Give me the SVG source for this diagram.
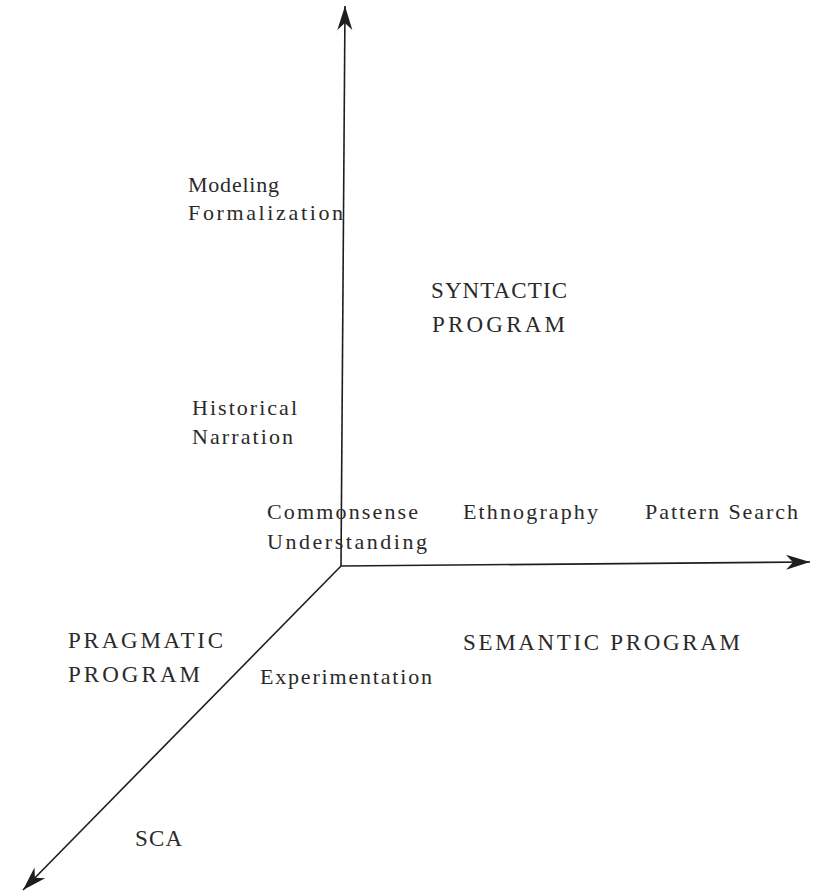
<svg xmlns="http://www.w3.org/2000/svg" width="816" height="892" viewBox="0 0 816 892">
<style>
text{font-family:"Liberation Serif","Times New Roman",serif;fill:#2a2a2a}
.lc{font-size:22px}
.uc{font-size:23px}
.axis{stroke:#1e1e1e;stroke-width:1.6;fill:none}
</style>
<defs>
<marker id="arr" markerUnits="userSpaceOnUse" viewBox="-26 -9 28 18" markerWidth="28" markerHeight="18" refX="0" refY="0" orient="auto">
<path d="M0,0 L-24,-7.5 L-17,0 L-24,7.5 Z" fill="#1e1e1e"/>
</marker>
</defs>
<rect width="816" height="892" fill="#ffffff"/>
<g id="connectors">
<line class="axis" x1="341" y1="566" x2="345" y2="6" marker-end="url(#arr)"/>
<line class="axis" x1="341" y1="566" x2="810" y2="562" marker-end="url(#arr)"/>
<line class="axis" x1="341" y1="566" x2="23" y2="890" marker-end="url(#arr)"/>
</g>
<g id="modeling"><text class="lc" x="188" y="192" textLength="91" lengthAdjust="spacing">Modeling</text><text class="lc" x="188" y="220" textLength="155" lengthAdjust="spacing">Formalization</text></g>
<g id="syntactic"><text class="uc" x="431" y="298" textLength="136" lengthAdjust="spacing">SYNTACTIC</text><text class="uc" x="432" y="332" textLength="133" lengthAdjust="spacing">PROGRAM</text></g>
<g id="historical"><text class="lc" x="192" y="415" textLength="105" lengthAdjust="spacing">Historical</text><text class="lc" x="192" y="444" textLength="101" lengthAdjust="spacing">Narration</text></g>
<g id="commonsense"><text class="lc" x="267" y="519" textLength="151" lengthAdjust="spacing">Commonsense</text><text class="lc" x="267" y="549" textLength="160" lengthAdjust="spacing">Understanding</text></g>
<g id="ethnography"><text class="lc" x="463" y="519" textLength="135" lengthAdjust="spacing">Ethnography</text></g>
<g id="pattern-search"><text class="lc" x="645" y="519" textLength="153" lengthAdjust="spacing">Pattern Search</text></g>
<g id="pragmatic"><text class="uc" x="68" y="648" textLength="155" lengthAdjust="spacing">PRAGMATIC</text><text class="uc" x="68" y="682" textLength="132" lengthAdjust="spacing">PROGRAM</text></g>
<g id="experimentation"><text class="lc" x="260" y="684" textLength="172" lengthAdjust="spacing">Experimentation</text></g>
<g id="semantic"><text class="uc" x="463" y="650" textLength="277" lengthAdjust="spacing">SEMANTIC PROGRAM</text></g>
<g id="sca"><text class="uc" x="135" y="846" textLength="47" lengthAdjust="spacing">SCA</text></g>
</svg>
